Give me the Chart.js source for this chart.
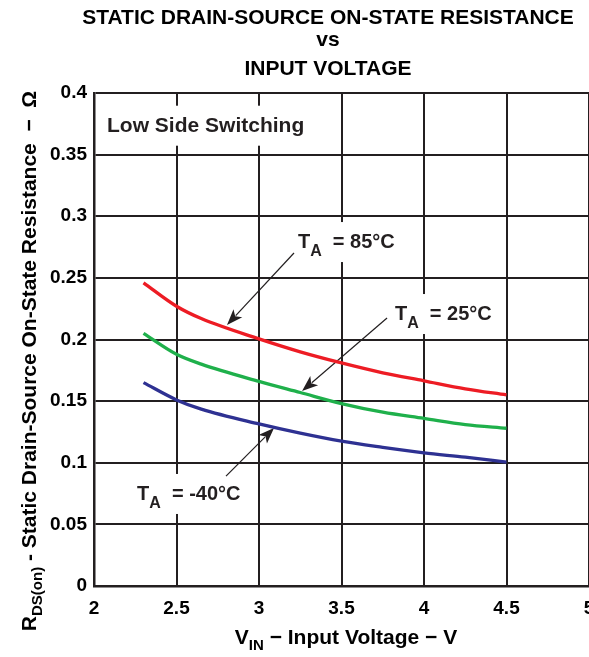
<!DOCTYPE html>
<html>
<head>
<meta charset="utf-8">
<script src="https://cdn.jsdelivr.net/npm/chart.js@4.4.1/dist/chart.umd.min.js"></script>
<style>
  html, body { margin: 0; padding: 0; background: #fff; }
  #grafico { display: block; }
</style>
</head>
<body>
<canvas id="grafico" width="589" height="657"></canvas>
<script>
// input voltage (V) where the curves were read
const xVolts = [2.3, 2.5, 2.65, 3, 3.25, 3.5, 3.75, 4, 4.25, 4.5];
// RDS(on) in ohms for each temperature
const rds85 = [0.246, 0.227, 0.217, 0.2005, 0.190, 0.181, 0.173, 0.1665, 0.160, 0.155];
const rds25 = [0.205, 0.188, 0.180, 0.166, 0.157, 0.148, 0.141, 0.136, 0.131, 0.128];
const rdsM40 = [0.165, 0.151, 0.1435, 0.1315, 0.124, 0.1175, 0.1125, 0.108, 0.1045, 0.1005];

const xTickLabels = ["2", "2.5", "3", "3.5", "4", "4.5", "5"];
const yTickLabels = ["0", "0.05", "0.1", "0.15", "0.2", "0.25", "0.3", "0.35", "0.4"];

const FONT = "'Liberation Sans', Arial, Helvetica, sans-serif";
const INK = "#231f20";

function pontos(valores) {
    var out = [];
    for (var i = 0; i < xVolts.length; i++) {
        out.push({ x: xVolts[i], y: valores[i] });
    }
    return out;
}

// text runs (with optional subscripts) starting at x, baseline y
function runsWidth(ctx, runs) {
    var w = 0;
    runs.forEach(function (r) {
        ctx.font = "bold " + r.size + "px " + FONT;
        w += ctx.measureText(r.t).width;
    });
    return w;
}
function drawRuns(ctx, runs, x, y) {
    var cx = x;
    runs.forEach(function (r) {
        ctx.font = "bold " + r.size + "px " + FONT;
        ctx.fillText(r.t, cx, y + (r.dy || 0));
        cx += ctx.measureText(r.t).width;
    });
    return cx;
}

function seta(ctx, x1, y1, x2, y2) {
    var ang = Math.atan2(y2 - y1, x2 - x1);
    var len = 16, half = 6;
    ctx.strokeStyle = INK;
    ctx.fillStyle = INK;
    ctx.lineWidth = 1.2;
    ctx.beginPath();
    ctx.moveTo(x1, y1);
    ctx.lineTo(x2 - Math.cos(ang) * len * 0.8, y2 - Math.sin(ang) * len * 0.8);
    ctx.stroke();
    ctx.beginPath();
    ctx.moveTo(x2, y2);
    ctx.lineTo(x2 - Math.cos(ang) * len + Math.sin(ang) * half, y2 - Math.sin(ang) * len - Math.cos(ang) * half);
    ctx.lineTo(x2 - Math.cos(ang) * len * 0.75, y2 - Math.sin(ang) * len * 0.75);
    ctx.lineTo(x2 - Math.cos(ang) * len - Math.sin(ang) * half, y2 - Math.sin(ang) * len + Math.cos(ang) * half);
    ctx.closePath();
    ctx.fill();
}

// labels inside the plot, placed in data units (x = V, y = ohm of the baseline)
const rotulos = [
    { x: 2.079, y: 0.3686, runs: [{ t: "Low Side Switching", size: 21 }] },
    { x: 3.236, y: 0.2742, runs: [{ t: "T", size: 20 }, { t: "A", size: 16, dy: 8 }, { t: "  = 85°C", size: 20 }] },
    { x: 3.824, y: 0.2158, runs: [{ t: "T", size: 20 }, { t: "A", size: 16, dy: 8 }, { t: "  = 25°C", size: 20 }] },
    { x: 2.261, y: 0.0698, runs: [{ t: "T", size: 20 }, { t: "A", size: 16, dy: 8 }, { t: "  = -40°C", size: 20 }] }
];
const setas = [
    [3.212, 0.2702, 2.806, 0.2118],
    [3.776, 0.2174, 3.261, 0.1582],
    [2.800, 0.0892, 3.091, 0.1282]
];

const anotacoes = {
    id: "anotacoes",
    beforeDatasetsDraw: function (chart) {
        const ctx = chart.ctx;
        const sx = chart.scales.x, sy = chart.scales.y;
        ctx.save();
        ctx.textBaseline = "alphabetic";
        ctx.textAlign = "left";
        rotulos.forEach(function (r) {
            var x = sx.getPixelForValue(r.x), y = sy.getPixelForValue(r.y);
            var w = runsWidth(ctx, r.runs);
            ctx.fillStyle = "#fff";
            ctx.fillRect(x - 6, y - 26, w + 12, 40);
            ctx.fillStyle = INK;
            drawRuns(ctx, r.runs, x, y);
        });
        setas.forEach(function (s) {
            seta(ctx, sx.getPixelForValue(s[0]), sy.getPixelForValue(s[1]),
                sx.getPixelForValue(s[2]), sy.getPixelForValue(s[3]));
        });
        ctx.restore();
    },
    afterDraw: function (chart) {
        const ctx = chart.ctx;
        ctx.save();
        ctx.fillStyle = "#000";
        ctx.textBaseline = "alphabetic";
        // title
        ctx.textAlign = "center";
        ctx.font = "bold 21px " + FONT;
        ctx.fillText("STATIC DRAIN-SOURCE ON-STATE RESISTANCE", 328, 24);
        ctx.fillText("vs", 328, 46);
        ctx.fillText("INPUT VOLTAGE", 328, 75);
        ctx.textAlign = "left";
        // x axis title
        var xt = [{ t: "V", size: 21 }, { t: "IN", size: 15, dy: 6 }, { t: " − Input Voltage − V", size: 21 }];
        drawRuns(ctx, xt, 346 - runsWidth(ctx, xt) / 2, 644);
        // y axis title
        var yt = [{ t: "R", size: 21 }, { t: "DS(on)", size: 15, dy: 6 },
            { t: " - Static Drain-Source On-State Resistance  −  Ω", size: 21 }];
        ctx.translate(36, 361);
        ctx.rotate(-Math.PI / 2);
        drawRuns(ctx, yt, -runsWidth(ctx, yt) / 2, 0);
        ctx.restore();
    }
};

const ctx1 = document.getElementById("grafico");

new Chart(ctx1, {
    type: "line",
    data: {
        datasets: [{
            label: "TA = 85°C",
            data: pontos(rds85),
            borderColor: "#ed1c24",
            borderWidth: 3.3
        }, {
            label: "TA = 25°C",
            data: pontos(rds25),
            borderColor: "#1fb04b",
            borderWidth: 3.3
        }, {
            label: "TA = -40°C",
            data: pontos(rdsM40),
            borderColor: "#2e3192",
            borderWidth: 3.3
        }]
    },
    options: {
        responsive: false,
        animation: false,
        devicePixelRatio: 1,
        layout: { padding: { top: 93, left: 0, right: 0, bottom: 0 } },
        elements: {
            point: { radius: 0 },
            line: { cubicInterpolationMode: "monotone" }
        },
        plugins: {
            legend: { display: false },
            tooltip: { enabled: false },
            title: { display: false }
        },
        scales: {
            x: {
                type: "linear",
                min: 2,
                max: 5,
                ticks: {
                    stepSize: 0.5,
                    color: "#000",
                    padding: 11,
                    maxRotation: 0,
                    font: { family: FONT, size: 19, weight: "bold" },
                    callback: function (v, i) { return xTickLabels[i]; }
                },
                grid: { color: INK, lineWidth: 2, drawTicks: false },
                border: { color: INK, width: 2.5 },
                afterFit: function (s) { s.height = 71; s.paddingLeft = 0; s.paddingRight = 0; }
            },
            y: {
                min: 0,
                max: 0.4,
                ticks: {
                    stepSize: 0.05,
                    color: "#000",
                    padding: 7,
                    font: { family: FONT, size: 19, weight: "bold" },
                    callback: function (v, i) { return yTickLabels[i]; }
                },
                grid: { color: INK, lineWidth: 2, drawTicks: false },
                border: { color: INK, width: 2.5 },
                afterFit: function (s) { s.width = 94; s.paddingTop = 0; s.paddingBottom = 0; }
            }
        }
    },
    plugins: [anotacoes]
});
</script>
</body>
</html>
